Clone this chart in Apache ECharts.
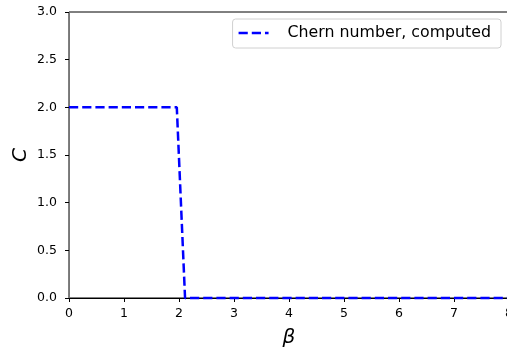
<!DOCTYPE html>
<html>
<head>
<meta charset="utf-8">
<script src="https://cdn.jsdelivr.net/npm/echarts@6/dist/echarts.min.js"></script>
<style>
  html, body { margin: 0; padding: 0; background: #fff; }
  #chart { width: 507px; height: 349px; }
</style>
</head>
<body>
<div id="chart"></div>
<script>
// Chern number vs beta
const beta = [0, 1.96, 2.11, 8];
const chern = [2, 2, 0, 0];
const xTicks = [0, 1, 2, 3, 4, 5, 6, 7, 8];
const yTicks = [0, 0.5, 1, 1.5, 2, 2.5, 3];

const font = 'DejaVu Sans';
const chart = echarts.init(document.getElementById('chart'));

const pts = beta.map((b, i) => [b, chern[i]]);
// dashed line sample for the legend
const dashIcon = 'path://M0,0 L9.2,0 L9.2,2.5 L0,2.5 Z M13.2,0 L22.4,0 L22.4,2.5 L13.2,2.5 Z M26.4,0 L30,0 L30,2.5 L26.4,2.5 Z';

chart.setOption({
  animation: false,
  grid: {
    left: 69, top: 12, width: 440, height: 286,
    containLabel: false,
    outerBoundsMode: 'none',
    show: true,
    borderColor: '#000',
    borderWidth: 1,
    backgroundColor: 'transparent'
  },
  legend: {
    top: 19,
    right: 6,
    data: [{ name: 'Chern number, computed', icon: dashIcon }],
    itemWidth: 30,
    itemHeight: 2.5,
    itemGap: 10,
    padding: [6, 10, 7, 6],
    borderColor: '#d0d0d0',
    borderWidth: 1,
    borderRadius: 3,
    backgroundColor: '#fff',
    textStyle: { fontFamily: font, fontSize: 15.8, color: '#000', padding: [0, 0, 0, 14] }
  },
  xAxis: {
    type: 'value',
    min: 0, max: 8, interval: 1,
    name: 'β',
    nameLocation: 'middle',
    nameGap: 30,
    nameMoveOverlap: false,
    nameTextStyle: { fontFamily: font, fontSize: 20, fontStyle: 'italic', color: '#000' },
    axisLine: { show: true, onZero: false, lineStyle: { color: '#000', width: 1 } },
    axisTick: { show: true, length: 4, lineStyle: { color: '#000' } },
    axisLabel: { fontFamily: font, fontSize: 12.5, color: '#000', margin: 9,
      formatter: v => String(v) },
    splitLine: { show: false }
  },
  yAxis: {
    type: 'value',
    min: 0, max: 3, interval: 0.5,
    name: 'C',
    nameLocation: 'middle',
    nameGap: 38,
    nameMoveOverlap: false,
    nameRotate: 90,
    nameTextStyle: { fontFamily: font, fontSize: 20, fontStyle: 'italic', color: '#000' },
    axisLine: { show: true, onZero: false, lineStyle: { color: '#777', width: 1 } },
    axisTick: { show: true, length: 4, lineStyle: { color: '#000' } },
    axisLabel: { fontFamily: font, fontSize: 12.5, color: '#000', margin: 12,
      formatter: v => v.toFixed(1) },
    splitLine: { show: false }
  },
  series: [{
    name: 'Chern number, computed',
    type: 'line',
    data: pts,
    symbol: 'none',
    showSymbol: false,
    clip: false,
    z: 5,
    lineStyle: { color: '#0000ff', width: 2.5, type: [9.2, 4] },
    itemStyle: { color: '#0000ff' }
  }]
});
</script>
</body>
</html>
